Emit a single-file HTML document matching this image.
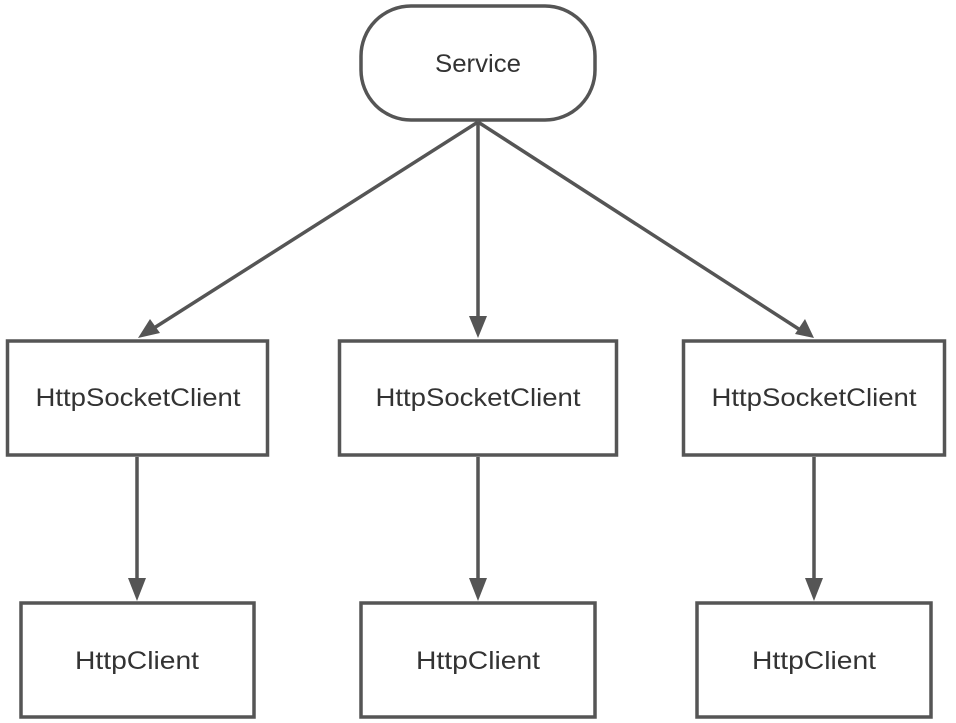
<!DOCTYPE html>
<html><head><meta charset="utf-8"><style>html,body{margin:0;padding:0;background:#fff}svg{display:block}</style></head>
<body>
<svg width="956" height="723" viewBox="0 0 956 723" xmlns="http://www.w3.org/2000/svg">
<defs>
<marker id="a" markerWidth="10" markerHeight="10" refX="9" refY="5" orient="auto" markerUnits="userSpaceOnUse" viewBox="0 0 10 10">
<path d="M0,0 L10,5 L0,10 L2,5 z" fill="#555"/>
</marker>
</defs>
<g fill="none" stroke="#555" stroke-width="3.5">
<rect x="361" y="6" width="234" height="114" rx="50" ry="50" fill="#fff"/>
<rect x="7.5" y="341" width="260" height="114" fill="#fff"/>
<rect x="339.5" y="341" width="277" height="114" fill="#fff"/>
<rect x="683.5" y="341" width="261" height="114" fill="#fff"/>
<rect x="21" y="603" width="233" height="114" fill="#fff"/>
<rect x="361" y="603" width="234" height="114" fill="#fff"/>
<rect x="697" y="603" width="234" height="114" fill="#fff"/>
</g>
<g stroke="#555" stroke-width="3.5" fill="none">
<line x1="478" y1="122" x2="143" y2="335"/>
<line x1="478" y1="122" x2="478" y2="332"/>
<line x1="478" y1="122" x2="808" y2="335"/>
<line x1="137" y1="457" x2="137" y2="595"/>
<line x1="478" y1="457" x2="478" y2="595"/>
<line x1="814" y1="457" x2="814" y2="595"/>
</g>
<g fill="#555">
<polygon points="138,338 150,319 160,333"/>
<polygon points="478,338 469,316 487,316"/>
<polygon points="814,338 795,334 805,319"/>
<polygon points="137,601 128,578 146,578"/>
<polygon points="478,601 469,578 487,578"/>
<polygon points="814,601 805,578 823,578"/>
</g>
<g font-family="'Liberation Sans', sans-serif" font-size="25" fill="#333" text-anchor="middle">
<text x="478" y="72" textLength="86" lengthAdjust="spacingAndGlyphs">Service</text>
<text x="138" y="406" textLength="205" lengthAdjust="spacingAndGlyphs">HttpSocketClient</text>
<text x="478" y="406" textLength="205" lengthAdjust="spacingAndGlyphs">HttpSocketClient</text>
<text x="814" y="406" textLength="205" lengthAdjust="spacingAndGlyphs">HttpSocketClient</text>
<text x="137" y="669" textLength="124" lengthAdjust="spacingAndGlyphs">HttpClient</text>
<text x="478" y="669" textLength="124" lengthAdjust="spacingAndGlyphs">HttpClient</text>
<text x="814" y="669" textLength="124" lengthAdjust="spacingAndGlyphs">HttpClient</text>
</g>
</svg>
</body></html>
